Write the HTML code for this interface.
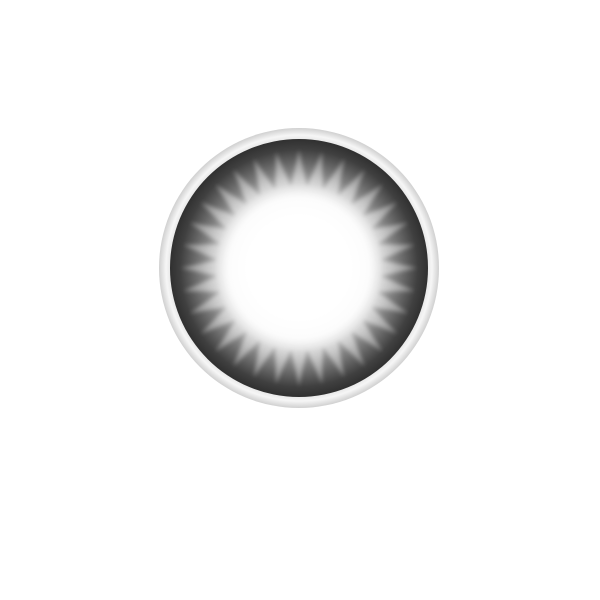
<!DOCTYPE html>
<html><head><style>html,body{margin:0;padding:0;background:#fff;width:600px;height:600px;overflow:hidden}</style></head>
<body>
<svg width="600" height="600" viewBox="0 0 600 600" xmlns="http://www.w3.org/2000/svg">
<defs>
<radialGradient id="rim" cx="0.5" cy="0.5" r="0.5">
<stop offset="0.9" stop-color="#e0e0e0"/>
<stop offset="0.95" stop-color="#f6f6f6"/>
<stop offset="1" stop-color="#d0d0d0"/>
</radialGradient>
<radialGradient id="iris" cx="0.5" cy="0.5" r="0.5">
<stop offset="0" stop-color="#ffffff"/>
<stop offset="0.55" stop-color="#dcdcdc"/>
<stop offset="0.75" stop-color="#808080"/>
<stop offset="0.92" stop-color="#404040"/>
<stop offset="1" stop-color="#303030"/>
</radialGradient>
<radialGradient id="star" cx="0.5" cy="0.5" r="0.5">
<stop offset="0.6" stop-color="#ffffff"/>
<stop offset="0.8" stop-color="#c8c8c8"/>
<stop offset="1" stop-color="#8a8a8a"/>
</radialGradient>
<radialGradient id="glow" cx="0.5" cy="0.5" r="0.5">
<stop offset="0" stop-color="#fff" stop-opacity="1"/>
<stop offset="0.6" stop-color="#fff" stop-opacity="1"/>
<stop offset="1" stop-color="#fff" stop-opacity="0"/>
</radialGradient>
<filter id="b"><feGaussianBlur stdDeviation="2"/></filter>
</defs>
<circle cx="299" cy="268" r="140" fill="url(#rim)"/>
<circle cx="299" cy="268" r="129" fill="url(#iris)"/>
<polygon id="st" fill="url(#star)" opacity="0.85" filter="url(#b)"/>
<circle cx="299" cy="268" r="85" fill="url(#glow)"/>
</svg>
<script>
var pts=[],n=32,cx=299,cy=268;
for(var i=0;i<n*2;i++){var a=i*Math.PI/n-Math.PI/2;var r=i%2?82:118;pts.push((cx+r*Math.cos(a)).toFixed(1)+","+(cy+r*Math.sin(a)).toFixed(1));}
document.getElementById("st").setAttribute("points",pts.join(" "));
</script>
</body></html>
